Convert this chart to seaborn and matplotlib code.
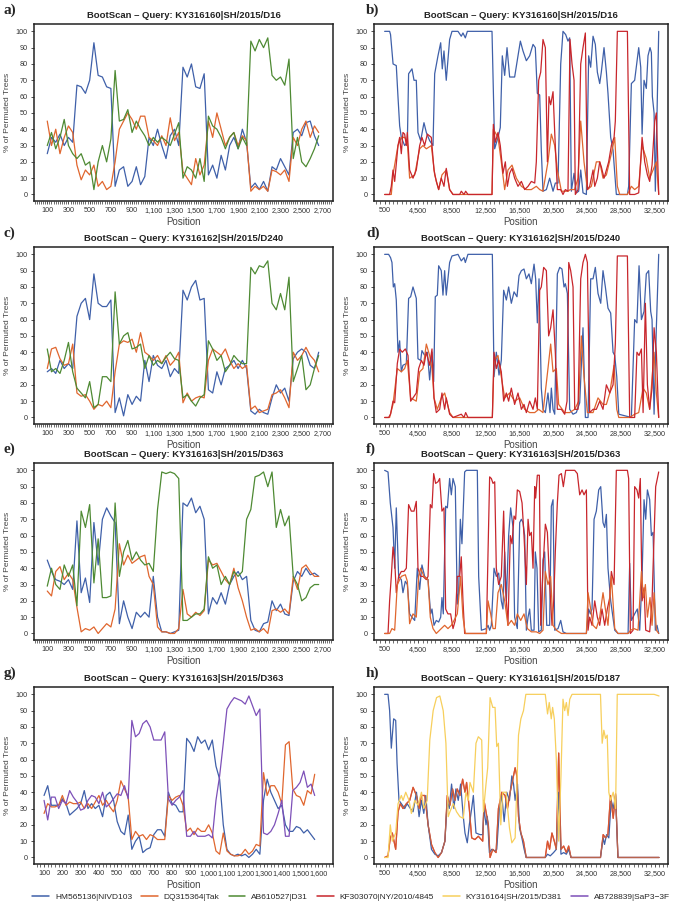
import numpy as np
import pandas as pd
import matplotlib
matplotlib.use("Agg")
import matplotlib.pyplot as plt
from matplotlib.lines import Line2D
from matplotlib.ticker import MultipleLocator, FuncFormatter
import seaborn as sns

# series names / colours (legend order)
names = ["HM565136|NIVD103", "DQ315364|Tak", "AB610527|D31",
         "KF303070|NY/2010/4845", "KY316164|SH/2015/D381", "AB728839|SaP3\u22123F"]
colors = ["#3f60a9", "#e0662e", "#4e8a33", "#c8262c", "#f7cf5c", "#7d50b8"]

# ---- left panels a, c, e: window positions every 40 bp ----
left_pos = list(range(100, 2661, 40))

a_blue = [25, 35, 32, 37, 30, 35, 32, 67, 66, 62, 70, 93, 73, 72, 66, 65, 5, 15, 17, 5, 8, 17, 6, 11,
          35, 30, 40, 30, 22, 36, 40, 30, 78, 72, 80, 66, 65, 74, 12, 18, 10, 24, 15, 30, 35, 28, 40, 32,
          4, 7, 3, 8, 2, 17, 15, 22, 17, 12, 38, 40, 36, 44, 45, 36, 30]
a_orange = [45, 30, 40, 25, 35, 42, 38, 18, 9, 15, 12, 18, 5, 8, 3, 5, 20, 40, 45, 50, 46, 40, 48, 48,
            35, 33, 30, 36, 30, 47, 33, 38, 14, 10, 6, 22, 12, 18, 45, 35, 50, 40, 30, 35, 38, 30, 36, 33,
            2, 5, 3, 5, 2, 15, 14, 12, 15, 8, 35, 30, 40, 45, 35, 42, 38]
a_green = [30, 38, 28, 35, 46, 30, 25, 22, 25, 18, 20, 3, 20, 30, 20, 34, 76, 45, 46, 52, 38, 45, 40, 36,
           30, 35, 32, 35, 33, 30, 37, 44, 10, 17, 15, 10, 22, 8, 48, 42, 40, 35, 28, 35, 38, 28, 35, 30,
           94, 88, 95, 90, 96, 73, 70, 72, 67, 83, 22, 35, 20, 17, 22, 28, 36]

c_blue = [28, 30, 27, 35, 30, 33, 30, 62, 70, 73, 60, 88, 70, 68, 68, 72, 3, 12, 1, 14, 8, 13, 10, 35,
          22, 38, 32, 30, 35, 25, 30, 27, 78, 72, 80, 84, 72, 73, 17, 15, 28, 20, 30, 32, 35, 30, 35, 30,
          4, 2, 5, 3, 2, 12, 20, 15, 18, 10, 36, 40, 42, 40, 32, 30, 40]
c_orange = [30, 42, 43, 36, 32, 33, 45, 15, 13, 14, 10, 5, 8, 7, 10, 6, 28, 45, 47, 46, 48, 40, 52, 40,
            38, 35, 38, 33, 38, 32, 35, 40, 9, 15, 10, 12, 13, 12, 35, 42, 40, 38, 42, 35, 30, 33, 30, 32,
            5, 7, 3, 4, 5, 14, 15, 17, 12, 6, 40, 35, 38, 43, 38, 35, 28]
c_green = [42, 28, 30, 27, 35, 46, 28, 18, 15, 12, 22, 6, 8, 25, 25, 22, 77, 45, 50, 52, 42, 43, 45, 30,
           38, 32, 35, 33, 37, 40, 36, 35, 12, 14, 10, 7, 12, 14, 47, 42, 35, 38, 28, 32, 38, 35, 33, 33,
           92, 88, 93, 92, 96, 70, 66, 76, 66, 86, 22, 30, 38, 17, 20, 30, 38]

e_blue = [45, 38, 33, 32, 30, 33, 27, 69, 25, 34, 19, 68, 42, 70, 77, 72, 68, 6, 20, 10, 3, 13, 10, 13,
          10, 35, 10, 1, 1, 0, 1, 2, 80, 78, 83, 74, 78, 70, 12, 22, 18, 25, 18, 30, 35, 38, 33, 35,
          8, 2, 1, 6, 7, 20, 14, 18, 12, 11, 32, 38, 35, 40, 36, 37, 35]
e_orange = [26, 23, 38, 41, 33, 37, 33, 16, 1, 3, 2, 4, 0, 3, 6, 4, 15, 55, 42, 48, 43, 45, 47, 48,
            35, 30, 4, 1, 1, 0, 0, 3, 27, 12, 10, 13, 11, 14, 45, 42, 43, 38, 33, 30, 40, 28, 20, 10,
            2, 3, 1, 3, 0, 14, 15, 13, 15, 12, 35, 27, 40, 42, 38, 35, 35]
e_green = [29, 40, 30, 27, 42, 35, 42, 17, 75, 65, 79, 31, 58, 22, 22, 23, 80, 35, 50, 57, 45, 50, 45, 42,
           43, 38, 76, 99, 98, 99, 98, 95, 8, 8, 10, 12, 12, 15, 47, 40, 42, 30, 35, 30, 38, 35, 38, 70,
           76, 96, 97, 99, 90, 99, 65, 76, 66, 72, 35, 30, 20, 22, 28, 30, 30]

# ---- panel g: window positions every 20 bp ----
g_pos = list(range(100, 1581, 20))
g_blue = [38, 44, 32, 32, 32, 36, 33, 26, 28, 30, 33, 41, 30, 33, 30, 32, 25, 38, 40, 35, 22, 16, 14, 26,
          5, 10, 13, 3, 5, 6, 14, 17, 17, 13, 40, 33, 32, 28, 28, 73, 70, 65, 74, 70, 72, 66, 72, 56,
          48, 20, 5, 2, 1, 2, 1, 2, 0, 2, 5, 2, 35, 48, 40, 35, 30, 32, 20, 16, 16, 19, 18, 15, 17, 14, 11]
g_orange = [27, 33, 31, 31, 32, 38, 32, 34, 33, 33, 34, 30, 33, 30, 34, 38, 32, 35, 31, 28, 35, 47, 42, 37,
            11, 16, 13, 14, 11, 14, 13, 11, 11, 11, 38, 35, 37, 38, 32, 16, 18, 14, 18, 16, 16, 20, 15, 4,
            2, 15, 4, 2, 1, 1, 2, 5, 2, 4, 8, 7, 52, 38, 44, 44, 40, 33, 69, 71, 42, 38, 37, 32, 41, 39, 51]
g_purple = [35, 23, 37, 37, 30, 35, 33, 41, 37, 34, 29, 30, 35, 38, 37, 33, 40, 31, 33, 36, 39, 38, 44, 36,
            84, 74, 76, 82, 84, 80, 72, 72, 72, 77, 36, 32, 35, 37, 41, 13, 13, 16, 13, 13, 13, 14, 12, 35,
            50, 70, 91, 95, 98, 97, 96, 94, 99, 93, 87, 91, 15, 14, 16, 20, 27, 35, 13, 13, 41, 43, 46, 53,
            43, 45, 38]

# ---- right panels b, d, f, h: (position, % trees) read at turning points ----
b_blue = [(500, 100), (1090, 100), (1200, 98), (1500, 80), (1880, 79), (2080, 60), (2280, 42), (2475, 35),
          (2870, 30), (3190, 32), (3340, 74), (3740, 77), (3980, 70), (4250, 70), (4450, 38), (4770, 33),
          (5160, 44), (5440, 38), (5830, 33), (6230, 30), (6430, 74), (6820, 85), (7140, 93), (7330, 77),
          (7530, 88), (7800, 70), (8200, 95), (8480, 100), (9190, 100), (9580, 97), (9780, 99), (10060, 96),
          (10300, 100), (13220, 100), (13535, 28), (13930, 35), (14200, 41), (14440, 85), (14720, 73),
          (15000, 90), (15310, 72), (15900, 72), (16300, 85), (16580, 94), (16890, 88), (17290, 82),
          (17680, 85), (18080, 92), (18350, 90), (18590, 62), (18870, 61), (19060, 27), (19260, 2),
          (19660, 3), (20050, 10), (20450, 2), (20720, 7), (21040, 7), (21360, 80), (21630, 100),
          (21950, 98), (22220, 94), (22420, 96), (22620, 2), (22940, 13), (23210, 1), (23490, 2),
          (23730, 15), (24000, 1), (24400, 0), (24670, 85), (24910, 78), (25190, 97), (25460, 92),
          (25700, 75), (25980, 68), (26170, 75), (26490, 90), (26770, 75), (26960, 62), (27280, 35),
          (27560, 27), (27950, 0), (29260, 0), (29410, 5), (29730, 68), (30120, 70), (30600, 90),
          (30840, 78), (31000, 37), (31230, 70), (31500, 65), (31700, 85), (31940, 90), (32100, 87),
          (32220, 60), (32420, 50), (32570, 2), (32770, 50), (32970, 100)]
b_orange = [(500, 0), (1290, 0), (1490, 12), (2080, 30), (2475, 35), (2870, 35), (3190, 32), (3460, 10),
            (4060, 12), (4650, 28), (5040, 30), (5440, 28), (6030, 30), (6430, 12), (6900, 3), (7290, 12),
            (7800, 15), (8200, 3), (8600, 0), (13220, 0), (13380, 40), (13930, 35), (14320, 20), (14720, 3),
            (15110, 15), (15590, 18), (16100, 10), (16700, 5), (17290, 3), (17880, 3), (18470, 5),
            (18870, 3), (19260, 2), (19850, 20), (20250, 37), (20650, 30), (20960, 15), (21440, 2),
            (22220, 2), (22500, 3), (23010, 3), (23410, 10), (23730, 45), (24120, 20), (24520, 3),
            (24990, 5), (25580, 20), (25980, 20), (26370, 10), (26770, 12), (27360, 25), (27760, 35),
            (28070, 5), (28350, 0), (29260, 0), (29730, 5), (30120, 3), (30600, 5), (31000, 30),
            (31500, 22), (31900, 10), (32300, 15), (32690, 20), (32970, 0)]
b_red = [(500, 0), (1090, 0), (1290, 5), (1490, 15), (1690, 8), (2080, 30), (2280, 35), (2475, 25),
         (2670, 38), (2870, 37), (3070, 30), (3190, 38), (3460, 15), (3860, 10), (4250, 15), (4650, 30),
         (4920, 35), (5240, 30), (5560, 37), (6030, 35), (6350, 15), (6620, 8), (6900, 3), (7210, 10),
         (7530, 5), (7800, 16), (8200, 3), (8600, 0), (9390, 0), (9580, 2), (9900, 0), (10100, 2),
         (10370, 0), (13220, 0), (13380, 43), (13610, 32), (13930, 38), (14200, 30), (14520, 13),
         (14800, 20), (15040, 5), (15310, 13), (15590, 16), (15900, 10), (16300, 5), (16700, 8),
         (17090, 3), (17490, 5), (17880, 8), (18280, 7), (18470, 20), (18750, 70), (18990, 75),
         (19260, 95), (19540, 90), (19780, 20), (19970, 60), (20170, 55), (20450, 63), (20650, 38),
         (20960, 3), (21360, 3), (21630, 0), (21910, 3), (22220, 2), (22460, 95), (22700, 80),
         (22940, 70), (23090, 0), (23410, 3), (23730, 80), (24000, 90), (24280, 99), (24520, 3),
         (24790, 5), (25190, 15), (25390, 5), (25700, 10), (25980, 20), (26170, 17), (26490, 10),
         (26770, 15), (27040, 20), (27360, 30), (27680, 35), (27830, 45), (28070, 100), (29260, 100),
         (29530, 0), (30120, 0), (30600, 1), (31000, 35), (31310, 20), (31630, 12), (31900, 8),
         (32180, 18), (32500, 45), (32690, 50), (32970, 0)]

d_blue = [(500, 100), (970, 100), (1200, 98), (1370, 95), (1530, 80), (1690, 82), (1880, 72), (2080, 40),
          (2280, 47), (2475, 28), (2670, 32), (3070, 33), (3340, 73), (3580, 74), (3860, 80), (4250, 73),
          (4450, 36), (4770, 35), (4920, 41), (5240, 38), (5560, 40), (5830, 23), (6110, 40), (6310, 22),
          (6500, 74), (6740, 75), (6900, 93), (7210, 90), (7410, 75), (7610, 90), (7800, 75), (8200, 95),
          (8480, 99), (9190, 100), (9580, 96), (9900, 98), (10060, 95), (10370, 100), (13260, 100),
          (13460, 25), (13730, 40), (14050, 26), (14320, 35), (14600, 78), (14920, 72), (15190, 80),
          (15510, 70), (15830, 77), (16180, 74), (16420, 87), (16700, 90), (17010, 91), (17290, 85),
          (17600, 88), (17880, 82), (18200, 94), (18390, 85), (18590, 58), (18790, 85), (19060, 18),
          (19260, 5), (19540, 3), (19850, 15), (20090, 3), (20250, 18), (20450, 5), (20650, 2),
          (20960, 88), (21240, 92), (21510, 91), (21750, 80), (21910, 82), (22150, 76), (22420, 5),
          (22820, 2), (23210, 3), (23610, 9), (24000, 55), (24280, 0), (24600, 0), (24910, 85),
          (25190, 85), (25460, 92), (25780, 76), (26100, 70), (26370, 90), (26650, 80), (26960, 67),
          (27280, 64), (27560, 40), (27760, 38), (28000, 25), (28240, 2), (29730, 0), (30120, 60),
          (30390, 58), (30640, 93), (30920, 60), (31230, 65), (31500, 88), (31780, 90), (32020, 65),
          (32180, 60), (32420, 2), (32690, 55), (32970, 100)]
d_orange = [(500, 0), (1090, 0), (1490, 8), (2000, 30), (2475, 28), (2870, 30), (3190, 35), (3580, 12),
            (4250, 10), (4650, 28), (5040, 30), (5440, 45), (5830, 38), (6110, 30), (6350, 12), (6740, 5),
            (7210, 12), (7610, 15), (8200, 3), (8600, 0), (13260, 0), (13460, 35), (13930, 38),
            (14320, 25), (14720, 12), (15310, 15), (15900, 10), (16500, 12), (17090, 5), (17680, 3),
            (18280, 3), (18750, 5), (19260, 3), (19850, 30), (20170, 45), (20450, 28), (20840, 30),
            (21120, 8), (21830, 3), (22420, 3), (23020, 5), (23490, 10), (23800, 50), (24120, 25),
            (24520, 3), (25190, 3), (25780, 12), (26370, 8), (26770, 8), (27170, 15), (27680, 32),
            (28000, 5), (28240, 0), (29530, 0), (30120, 2), (30600, 3), (31120, 18), (31500, 15),
            (31900, 5), (32420, 40), (32690, 15), (32970, 0)]
d_red = [(500, 0), (970, 0), (1200, 2), (1490, 10), (1690, 9), (2000, 33), (2280, 42), (2590, 40),
         (2950, 42), (3270, 38), (3580, 10), (3860, 12), (4250, 15), (4530, 30), (4850, 35), (5160, 32),
         (5440, 40), (5830, 32), (6110, 42), (6350, 12), (6620, 3), (7020, 5), (7290, 15), (7610, 5),
         (7800, 12), (8200, 2), (8600, 0), (9580, 2), (9900, 0), (10100, 3), (10370, 0), (13260, 0),
         (13460, 40), (13730, 30), (14010, 35), (14320, 28), (14600, 10), (14920, 15), (15190, 10),
         (15510, 18), (15900, 8), (16300, 15), (16700, 5), (17010, 8), (17290, 3), (17680, 10),
         (18080, 5), (18350, 12), (18590, 5), (18870, 78), (19060, 80), (19340, 92), (19660, 90),
         (19930, 50), (20170, 55), (20450, 66), (20720, 40), (20960, 5), (21440, 5), (21830, 2),
         (22110, 10), (22310, 95), (22540, 90), (22820, 80), (23020, 5), (23410, 5), (23730, 85),
         (24000, 95), (24280, 100), (24520, 95), (24790, 3), (25190, 5), (25580, 5), (25980, 10),
         (26370, 5), (26770, 20), (27170, 15), (27560, 20), (27830, 45), (28070, 99), (29260, 99),
         (29530, 0), (30120, 0), (30390, 40), (30640, 38), (30920, 42), (31120, 3), (31390, 70),
         (31630, 20), (31900, 5), (32180, 18), (32420, 55), (32690, 40), (32970, 0)]

f_blue = [(500, 100), (900, 99), (1170, 80), (1490, 65), (1690, 40), (1880, 77), (2160, 35), (2475, 33),
          (2670, 25), (2950, 32), (3190, 30), (3460, 12), (3740, 10), (4060, 8), (4370, 40), (4650, 27),
          (4920, 42), (5240, 35), (5640, 33), (5950, 12), (6110, 15), (6350, 5), (6620, 8), (6900, 7),
          (7140, 10), (7290, 22), (7450, 12), (7730, 78), (7930, 77), (8200, 95), (8400, 85), (8600, 95),
          (8870, 90), (9110, 18), (9270, 25), (9470, 70), (9660, 55), (9980, 99), (10180, 100),
          (11480, 100), (11640, 35), (11960, 2), (12550, 3), (12750, 5), (12940, 2), (13140, 5),
          (13460, 40), (13730, 35), (14010, 37), (14320, 20), (14520, 15), (14720, 50), (14920, 20),
          (15190, 60), (15430, 77), (15710, 65), (15900, 10), (16220, 3), (16500, 68), (16700, 70),
          (16890, 68), (17090, 60), (17290, 2), (17490, 10), (17680, 15), (17880, 2), (18200, 2),
          (18350, 50), (18550, 40), (18750, 1), (19060, 2), (19260, 45), (19460, 50), (19700, 5),
          (20050, 5), (20250, 78), (20450, 82), (20650, 2), (21040, 3), (21360, 8), (21630, 1),
          (22030, 0), (24400, 0), (24670, 15), (24870, 12), (25070, 15), (25310, 70), (25580, 75),
          (25860, 88), (26100, 90), (26370, 68), (26570, 65), (26770, 73), (26960, 40), (27280, 20),
          (27760, 2), (28150, 0), (29340, 0), (29530, 43), (29730, 8), (30120, 12), (30440, 15),
          (30720, 2), (31000, 35), (31230, 82), (31430, 70), (31630, 88), (31900, 82), (32100, 60),
          (32300, 62), (32570, 2), (32770, 5), (32970, 0)]
f_orange = [(500, 0), (1090, 0), (1370, 3), (1690, 2), (2000, 30), (2475, 35), (2950, 36), (3190, 32),
            (3460, 6), (3860, 12), (4250, 10), (4530, 35), (4770, 40), (5160, 35), (5640, 33), (5910, 10),
            (6230, 3), (6620, 0), (7210, 3), (7610, 5), (8000, 3), (8400, 5), (8720, 8), (9110, 12),
            (9500, 35), (9780, 10), (10060, 0), (12550, 0), (12750, 20), (13060, 12), (13340, 3),
            (13610, 3), (13930, 25), (14320, 30), (14720, 20), (15110, 5), (15510, 8), (15900, 5),
            (16220, 12), (16620, 8), (17010, 12), (17410, 3), (17880, 1), (18470, 1), (18870, 0),
            (19260, 2), (19540, 38), (19850, 30), (20170, 35), (20450, 5), (20840, 2), (21440, 0),
            (24400, 0), (24600, 25), (24910, 15), (25190, 5), (25580, 3), (25980, 10), (26370, 25),
            (26650, 15), (26960, 5), (27360, 35), (27760, 3), (28150, 0), (29340, 0), (29650, 2),
            (30040, 3), (30520, 2), (30920, 38), (31160, 22), (31390, 30), (31630, 10), (31940, 22),
            (32180, 5), (32420, 25), (32690, 2), (32970, 0)]
f_red = [(500, 0), (900, 0), (1090, 20), (1290, 35), (1490, 53), (1690, 45), (1880, 25), (2160, 35),
         (2475, 38), (2790, 38), (3070, 40), (3340, 79), (3660, 75), (3980, 75), (4250, 81), (4450, 40),
         (4770, 35), (5040, 35), (5440, 33), (5640, 35), (5910, 79), (6110, 77), (6310, 98), (6540, 92),
         (6820, 93), (7020, 95), (7290, 75), (7530, 77), (7730, 15), (8000, 12), (8320, 12), (8600, 3),
         (8870, 8), (9110, 35), (9390, 35), (9580, 47), (9780, 20), (9980, 0), (12550, 0), (12750, 50),
         (12940, 96), (13140, 95), (13340, 92), (13540, 93), (13730, 40), (14010, 30), (14320, 35),
         (14600, 75), (14800, 30), (15110, 5), (15390, 60), (15590, 55), (15830, 72), (16020, 70),
         (16220, 88), (16500, 87), (16780, 80), (17010, 60), (17290, 30), (17490, 70), (17680, 60),
         (17880, 62), (18080, 40), (18280, 90), (18390, 83), (18590, 97), (18830, 97), (18990, 5),
         (19260, 40), (19540, 67), (19780, 62), (20050, 30), (20330, 5), (20530, 20), (20720, 50),
         (20960, 80), (21160, 97), (21440, 98), (21670, 90), (21950, 100), (23020, 100), (23330, 98),
         (23610, 85), (23890, 88), (24120, 85), (24400, 88), (24600, 2), (24790, 10), (25070, 5),
         (25390, 20), (25700, 10), (25980, 5), (26250, 15), (26570, 5), (26880, 15), (27170, 22),
         (27360, 38), (27680, 30), (27950, 100), (29260, 100), (29410, 95), (29610, 0), (29930, 2),
         (30120, 90), (30390, 88), (30600, 83), (30790, 95), (31000, 20), (31230, 28), (31430, 2),
         (31900, 1), (32180, 20), (32420, 60), (32610, 90), (32970, 99)]

h_blue = [(500, 100), (900, 100), (1090, 90), (1290, 67), (1570, 85), (1810, 84), (1970, 58), (2200, 35),
          (2480, 33), (2880, 30), (3160, 33), (3550, 30), (3870, 28), (4270, 40), (4580, 25), (4860, 35),
          (5140, 27), (5380, 38), (5650, 20), (6050, 5), (6450, 2), (6840, 1), (7240, 3), (7640, 10),
          (7920, 35), (8150, 30), (8430, 45), (8710, 30), (8940, 42), (9220, 35), (9500, 45), (9820, 25),
          (10020, 15), (10290, 9), (10530, 20), (10810, 30), (11010, 38), (11320, 15), (11800, 14),
          (12120, 14), (12270, 30), (12510, 20), (12670, 25), (12910, 3), (13190, 5), (13580, 4),
          (13780, 5), (14100, 30), (14380, 38), (14660, 22), (14970, 40), (15290, 35), (15570, 50),
          (15770, 45), (15960, 35), (16240, 45), (16480, 18), (16760, 12), (17030, 5), (17270, 0),
          (19530, 0), (19800, 2), (20120, 1), (20510, 3), (20840, 5), (21120, 40), (21390, 2),
          (21710, 3), (22030, 2), (22300, 5), (22580, 0), (26070, 0), (26390, 12), (26550, 8),
          (26790, 14), (27060, 12), (27340, 35), (27580, 30), (27860, 38), (28140, 0), (33010, 0)]
h_orange = [(500, 0), (900, 1), (1170, 12), (1410, 15), (1810, 5), (2090, 28), (2360, 33), (2680, 30),
            (3080, 33), (3470, 35), (3870, 43), (4270, 38), (4580, 30), (4860, 38), (5260, 38), (5650, 20),
            (6050, 8), (6450, 3), (6840, 0), (7240, 3), (7640, 10), (7920, 38), (8230, 32), (8550, 42),
            (8830, 35), (9100, 42), (9420, 38), (9740, 48), (10020, 40), (10210, 46), (10530, 30),
            (10810, 12), (11200, 11), (11600, 13), (12120, 10), (12270, 35), (12510, 28), (12790, 20),
            (12990, 0), (13310, 5), (13700, 3), (13980, 30), (14380, 40), (14770, 38), (15050, 30),
            (15370, 40), (15690, 48), (15960, 55), (16160, 50), (16360, 25), (16640, 15), (16950, 10),
            (17270, 0), (19530, 0), (19800, 10), (20040, 5), (20320, 15), (20600, 10), (20840, 5),
            (21120, 64), (21390, 5), (21710, 7), (22030, 3), (22300, 7), (22580, 0), (26070, 0),
            (26390, 14), (26670, 12), (26950, 14), (27260, 38), (27580, 24), (27860, 39), (28140, 0),
            (33010, 0)]
# the red KF303070 line runs underneath the orange one in h
h_red = h_orange
h_yellow = [(500, 0), (900, 0), (1170, 20), (1410, 10), (1810, 15), (2090, 33), (2480, 38), (2680, 35),
            (3000, 40), (3390, 35), (3670, 27), (4070, 35), (4460, 32), (4860, 40), (5140, 30), (5540, 35),
            (5850, 72), (6250, 90), (6650, 98), (7040, 99), (7440, 90), (7760, 70), (8030, 25), (8230, 28),
            (8630, 33), (9020, 28), (9420, 25), (9820, 24), (10130, 40), (10410, 35), (10610, 46),
            (11010, 40), (11320, 70), (11600, 74), (12000, 72), (12200, 28), (12510, 45), (12710, 55),
            (12990, 98), (13310, 92), (13580, 92), (13780, 68), (13980, 70), (14260, 20), (14500, 40),
            (14890, 40), (15290, 18), (15570, 9), (15960, 12), (16360, 75), (16640, 85), (16950, 90),
            (17230, 100), (19530, 100), (19800, 88), (20000, 95), (20240, 85), (20400, 92), (20600, 85),
            (20840, 60), (21120, 10), (21390, 50), (21630, 97), (21830, 90), (22030, 95), (22230, 87),
            (22430, 97), (22700, 100), (26070, 100), (26270, 70), (26470, 78), (26670, 73), (26870, 75),
            (27060, 40), (27260, 35), (27580, 40), (27860, 30), (28060, 100), (32420, 100), (33010, 99)]

titles = {
    "a": "BootScan \u2013 Query: KY316160|SH/2015/D16",
    "b": "BootScan \u2013 Query: KY316160|SH/2015/D16",
    "c": "BootScan \u2013 Query: KY316162|SH/2015/D240",
    "d": "BootScan \u2013 Query: KY316162|SH/2015/D240",
    "e": "BootScan \u2013 Query: KY316163|SH/2015/D363",
    "f": "BootScan \u2013 Query: KY316163|SH/2015/D363",
    "g": "BootScan \u2013 Query: KY316163|SH/2015/D363",
    "h": "BootScan \u2013 Query: KY316161|SH/2015/D187",
}


def uniform(pos, **series):
    frames = [pd.DataFrame({"pos": pos, "val": vals, "series": key}) for key, vals in series.items()]
    return pd.concat(frames, ignore_index=True)


def pairs(**series):
    frames = []
    for key, pts in series.items():
        p, v = zip(*pts)
        frames.append(pd.DataFrame({"pos": p, "val": v, "series": key}))
    return pd.concat(frames, ignore_index=True)


pal = dict(zip(["blue", "orange", "green", "red", "yellow", "purple"], colors))

panels = {
    "a": uniform(left_pos, blue=a_blue, orange=a_orange, green=a_green),
    "c": uniform(left_pos, blue=c_blue, orange=c_orange, green=c_green),
    "e": uniform(left_pos, blue=e_blue, orange=e_orange, green=e_green),
    "g": uniform(g_pos, blue=g_blue, orange=g_orange, purple=g_purple),
    "b": pairs(blue=b_blue, orange=b_orange, red=b_red),
    "d": pairs(blue=d_blue, orange=d_orange, red=d_red),
    "f": pairs(blue=f_blue, red=f_red, orange=f_orange),
    "h": pairs(red=h_red, blue=h_blue, orange=h_orange, yellow=h_yellow),
}

sns.set_style("white")
plt.rcParams["font.family"] = ["Liberation Sans", "DejaVu Sans"]

fig = plt.figure(figsize=(6.75, 9.06), dpi=100)
W, H = 675.0, 906.0
row_tops = [24, 247, 463, 687]
row_h = 177
col_x = [(34, 333), (374, 668)]
order = [["a", "b"], ["c", "d"], ["e", "f"], ["g", "h"]]

comma = FuncFormatter(lambda v, p: f"{int(round(v)):,}")

for r, row in enumerate(order):
    for c, key in enumerate(row):
        x0, x1 = col_x[c]
        top = row_tops[r]
        ax = fig.add_axes([x0 / W, 1 - (top + row_h) / H, (x1 - x0) / W, row_h / H])
        df = panels[key]
        for name, grp in df.groupby("series", sort=False):
            alpha = 0.75 if (key == "h" and name == "orange") else 1.0
            sns.lineplot(data=grp, x="pos", y="val", color=pal[name], lw=0.9,
                         estimator=None, sort=False, ax=ax, legend=False, alpha=alpha)
        ax.set_ylim(-4, 104.5)
        ax.yaxis.set_major_locator(MultipleLocator(10))
        if key in ("a", "c", "e"):
            ax.set_xlim(-25, 2795)
            ax.set_xticks(range(100, 2701, 200))
            ax.xaxis.set_minor_locator(MultipleLocator(20))
        elif key == "g":
            ax.set_xlim(45, 1680)
            ax.set_xticks(range(100, 1601, 100))
            ax.xaxis.set_minor_locator(MultipleLocator(20))
        else:
            ax.set_xlim(-760, 34070)
            ax.set_xticks(range(500, 32501, 4000))
            ax.xaxis.set_minor_locator(MultipleLocator(500))
        ax.xaxis.set_major_formatter(comma)
        ax.tick_params(axis="both", which="major", labelsize=5.2, length=2.5, width=0.6,
                       colors="#333333", pad=2)
        ax.tick_params(axis="x", which="minor", length=1.8, width=0.5, color="#333333")
        ax.tick_params(bottom=True, left=True, which="both")
        for s in ax.spines.values():
            s.set_color("#222222")
            s.set_linewidth(1.1)
        ax.set_xlabel("Position", fontsize=7, color="#444444", labelpad=2)
        ax.set_ylabel("% of Permuted Trees", fontsize=6, color="#444444", labelpad=3)
        ax.set_title(titles[key], fontsize=6.8, fontweight="bold", color="#222222", pad=4)
        fig.text((x0 - 30) / W if c == 0 else (x0 - 8) / W, 1 - (top - 14) / H, key + ")",
                 fontsize=11, fontweight="bold", family="Liberation Serif", va="center", ha="left")

handles = [Line2D([0], [0], color=col, lw=1.1) for col in colors]
fig.legend(handles, names, loc="center", bbox_to_anchor=(0.52, 1 - 897 / H), ncol=6,
           frameon=False, fontsize=6.0, handlelength=2.0, columnspacing=1.1, handletextpad=0.7)

fig.savefig("out.png", dpi=100)
